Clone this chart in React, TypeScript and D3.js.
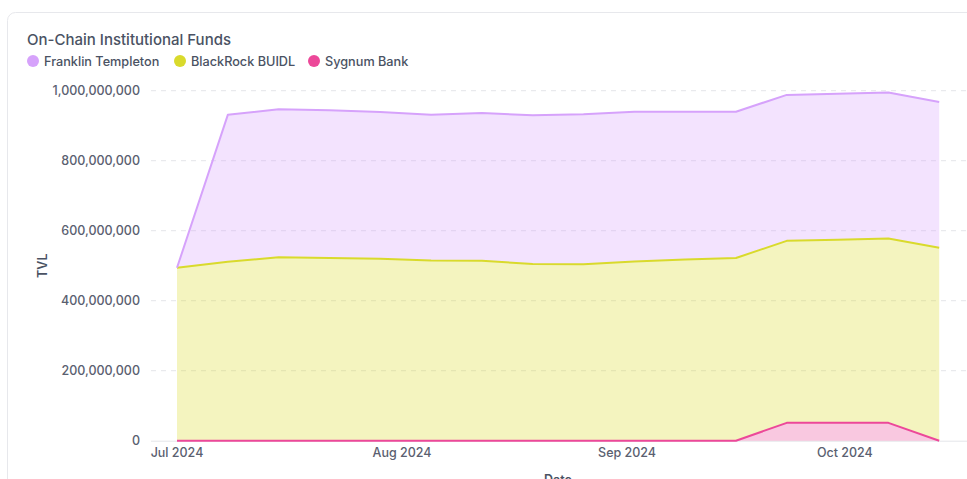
import React from "react";
import * as d3 from "d3";

const title = "On-Chain Institutional Funds";
const seriesNames = ["Franklin Templeton", "BlackRock BUIDL", "Sygnum Bank"];
const seriesColors = ["#d6a2fb", "#d9da2c", "#ec4899"];
const dates = [
  "2024-07-01", "2024-07-08", "2024-07-15", "2024-07-22", "2024-07-29",
  "2024-08-05", "2024-08-12", "2024-08-19", "2024-08-26", "2024-09-02",
  "2024-09-09", "2024-09-16", "2024-09-23", "2024-09-30", "2024-10-07",
  "2024-10-14",
];
// values in millions
const franklin = [0, 420, 423, 422, 419, 416, 422, 425, 429, 428, 422, 418, 417, 417, 417, 417];
const blackrock = [494, 511, 524, 522, 520, 515, 514, 505, 504, 512, 518, 522, 520, 523, 527, 551];
const sygnum = [0, 0, 0, 0, 0, 0, 0, 0, 0, 0, 0, 0, 51, 51, 51, 0];
const yTicks = [0, 200e6, 400e6, 600e6, 800e6, 1000e6];
const xTicks = ["2024-07-01", "2024-08-01", "2024-09-01", "2024-10-01"];
const yLabel = "TVL";
const xLabel = "Date";

const W = 967;
const H = 479;
const FONT = "Inter, 'Noto Sans', sans-serif";

export default function App() {
  const parse = d3.timeParse("%Y-%m-%d");
  const rows = dates.map((d, i) => ({
    date: parse(d) as Date,
    sygnum: sygnum[i] * 1e6,
    blackrock: blackrock[i] * 1e6,
    franklin: franklin[i] * 1e6,
  }));
  const keys = ["sygnum", "blackrock", "franklin"];
  const keyColor: Record<string, string> = {
    franklin: seriesColors[0],
    blackrock: seriesColors[1],
    sygnum: seriesColors[2],
  };
  const stacked = d3.stack<any>().keys(keys)(rows);

  const x = d3
    .scaleTime()
    .domain([rows[0].date, rows[rows.length - 1].date])
    .range([177, 939.2]);
  const y = d3.scaleLinear().domain([0, 1e9]).range([440.7, 90.7]);

  const area = d3
    .area<any>()
    .x((d) => x(d.data.date))
    .y0((d) => y(d[0]))
    .y1((d) => y(d[1]));
  const line = d3
    .line<any>()
    .x((d) => x(d.data.date))
    .y((d) => y(d[1]));

  const fmt = d3.format(",");
  const tfmt = d3.timeFormat("%b %Y");
  const gridX0 = 151;
  const gridX1 = 967;

  const legendX = [33, 180, 314];

  return (
    <svg
      width={W}
      height={H}
      style={{ position: "fixed", left: 0, top: 0, background: "#fff" }}
      fontFamily={FONT}
    >
      <rect x={7.5} y={12.5} width={1000} height={520} rx={8} fill="#fff" stroke="#e7e8ec" />
      <text x={27} y={45} fontSize={15} fontWeight={500} fill="#4a5263">
        {title}
      </text>
      {seriesNames.map((n, i) => (
        <g key={n}>
          <circle cx={legendX[i]} cy={61} r={6} fill={seriesColors[i]} />
          <text x={legendX[i] + 11} y={65.5} fontSize={12.7} fontWeight={500} fill="#4a5263">
            {n}
          </text>
        </g>
      ))}
      {yTicks.map((t) => (
        <g key={t}>
          {t > 0 && (
            <line
              x1={gridX0}
              x2={gridX1}
              y1={y(t)}
              y2={y(t)}
              stroke="#e4e5e9"
              strokeDasharray="5 5"
            />
          )}
          <text
            x={140}
            y={y(t)}
            dy="0.35em"
            textAnchor="end"
            fontSize={12.5}
            fontWeight={500}
            fill="#5a6070"
          >
            {fmt(t)}
          </text>
        </g>
      ))}
      <line x1={gridX0} x2={gridX1} y1={y(0) + 0.5} y2={y(0) + 0.5} stroke="#e4e5e9" />
      {stacked.map((s) => (
        <path key={s.key} d={area(s) || ""} fill={keyColor[s.key]} fillOpacity={0.3} />
      ))}
      {stacked.map((s) => (
        <path
          key={s.key + "l"}
          d={line(s) || ""}
          fill="none"
          stroke={keyColor[s.key]}
          strokeWidth={2}
          strokeLinejoin="round"
        />
      ))}
      {xTicks.map((t) => {
        const d = parse(t) as Date;
        return (
          <text
            key={t}
            x={x(d)}
            y={457}
            textAnchor="middle"
            fontSize={12.5}
            fontWeight={500}
            fill="#5a6070"
          >
            {tfmt(d)}
          </text>
        );
      })}
      <text
        transform={`translate(46.5,${(y(0) + y(1e9)) / 2}) rotate(-90)`}
        textAnchor="middle"
        fontSize={12.5}
        fontWeight={600}
        fill="#4a5263"
      >
        {yLabel}
      </text>
      <text x={558} y={484} textAnchor="middle" fontSize={12.5} fontWeight={600} fill="#4a5263">
        {xLabel}
      </text>
    </svg>
  );
}
